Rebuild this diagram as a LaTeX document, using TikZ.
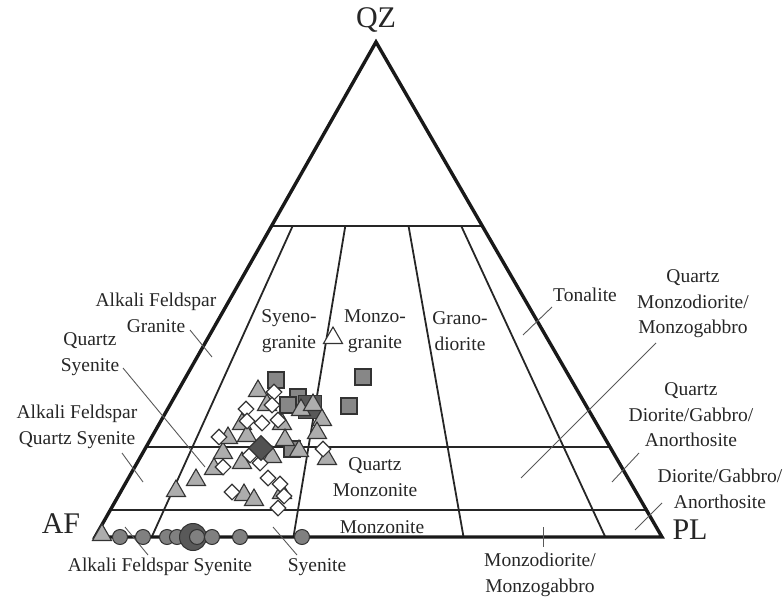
\documentclass[tikz,border=0pt]{standalone}
\usepackage{fontspec}
\setmainfont{Liberation Serif}
\usetikzlibrary{shapes.geometric,calc}
\begin{document}
\begin{tikzpicture}[x=1pt,y=-1pt,
  lbl/.style={font=\fontsize{19.5}{25.5}\selectfont, align=center, inner sep=0pt, text=black!85},
  vtx/.style={font=\fontsize{30}{30}\selectfont, inner sep=0pt, text=black!85},
  side/.style={line width=3.4pt, line join=miter, draw=black!90},
  field/.style={line width=1.8pt, draw=black!85},
  lead/.style={line width=0.9pt, draw=black!65},
  tri/.style={regular polygon, regular polygon sides=3, minimum size=22pt, inner sep=0pt, draw=black!80, fill=black!32, line width=1.1pt},
  otri/.style={tri, fill=white},
  dia/.style={diamond, minimum width=16pt, minimum height=16pt, inner sep=0pt, draw=black!80, fill=white, line width=1.1pt},
  ddia/.style={dia, minimum width=25pt, minimum height=25pt, fill=black!68},
  sq/.style={rectangle, minimum size=16pt, inner sep=0pt, draw=black!80, fill=black!47, line width=1.1pt},
  dsq/.style={sq, minimum size=23pt, fill=black!65},
  dot/.style={circle, minimum size=15pt, inner sep=0pt, draw=black!80, fill=black!50, line width=1pt},
  bigdot/.style={dot, minimum size=27pt, fill=black!65},
]
\useasboundingbox (0,0) rectangle (784,599);

% triangle corners
\coordinate (AFc) at (95,537);
\coordinate (PLc) at (662,537);
\coordinate (QZc) at (376,42);

% horizontal field lines
\foreach \t/\n in {0.628/a,0.182/b,0.0545/c}{
  \coordinate (L\n) at ($(AFc)!\t!(QZc)$);
  \coordinate (R\n) at ($(PLc)!\t!(QZc)$);
  \draw[field] (L\n) -- (R\n);
}
% radiating field lines
\foreach \f/\n in {0.1/1,0.35/2,0.65/3,0.9/4}{
  \coordinate (B\n) at ($(AFc)!\f!(PLc)$);
  \coordinate (T\n) at ($(B\n)!0.628!(QZc)$);
  \draw[field] (B\n) -- (T\n);
}
% outer triangle
\draw[side] (AFc) -- (PLc) -- (QZc) -- cycle;

% vertex labels
\node[vtx] (QZ) at (376,20) {QZ};
\node[vtx] (AF) at (61,524) {AF};
\node[vtx] (PL) at (690,530) {PL};

% field labels
\node[lbl] (afg) at (156,313) {Alkali Feldspar\\Granite};
\node[lbl] (qs) at (90,354) {Quartz\\Syenite};
\node[lbl] (afqs) at (77,427) {Alkali Feldspar\\Quartz Syenite};
\node[lbl] (sg) at (289,331) {Syeno-\\granite};
\node[lbl] (mg) at (375,331) {Monzo-\\granite};
\node[lbl] (gd) at (460,331) {Grano-\\diorite};
\node[lbl] (ton) at (585,295) {Tonalite};
\node[lbl] (qmd) at (693,304) {Quartz\\Monzodiorite/\\Monzogabbro};
\node[lbl] (qd) at (691,415) {Quartz\\Diorite/Gabbro/\\Anorthosite};
\node[lbl] (dga) at (720,489) {Diorite/Gabbro/\\Anorthosite};
\node[lbl] (qm) at (375,477) {Quartz\\Monzonite};
\node[lbl] (mz) at (382,527) {Monzonite};
\node[lbl] (afs) at (160,567) {Alkali Feldspar Syenite};
\node[lbl] (sy) at (317,567) {Syenite};
\node[lbl] (mdmg) at (540,575) {Monzodiorite/\\Monzogabbro};

% leader lines
\foreach \n/\xa/\ya/\xb/\yb in {afg/190/330/212/357, qs/123/368/205/467, afqs/122/453/143/482,
  ton/552/307/523/335, qmd/656/343/521/478, qd/639/453/612/482, dga/662/503/635/530,
  mdmg/543/527/543/547, afs/125/527/148/555, sy/273/527/297/555}{
  \coordinate (\n-a) at (\xa,\ya);
  \coordinate (\n-b) at (\xb,\yb);
  \draw[lead] (\n-a) -- (\n-b);
}

% data: circles on the AF-PL join
\foreach \x [count=\i] in {120,143,167,177}{\node[dot] (c\i) at (\x,537) {};}
\node[bigdot] (cbig) at (193,537) {};
\foreach \x [count=\i] in {197,212,240,302}{\node[dot] (d\i) at (\x,537) {};}

% squares
\foreach \x/\y [count=\i] in {276/380,363/377,349/406,298/397,288/405,292/449}{
  \node[sq] (s\i) at (\x,\y) {};}
\node[dsq] (sdark) at (310,407) {};

% triangles
\foreach \x/\y [count=\i] in {102/535,176/491,196/480,214/469,223/453,228/438,242/424,247/436,
  242/463,244/495,254/500,258/391,267/405,272/457,282/424,285/440,299/451,301/410,313/405,
  322/420,317/433,327/459,282/493}{
  \node[tri] (t\i) at (\x,\y) {};}
\node[otri] (topen) at (333,338) {};

% diamonds
\foreach \x/\y [count=\i] in {274/392,272/405,246/409,247/421,262/423,278/420,219/437,323/449,
  250/455,260/463,223/467,268/478,280/484,232/492,284/496,278/508}{
  \node[dia] (m\i) at (\x,\y) {};}
\node[ddia] (mdark) at (261,448) {};
\end{tikzpicture}
\end{document}
